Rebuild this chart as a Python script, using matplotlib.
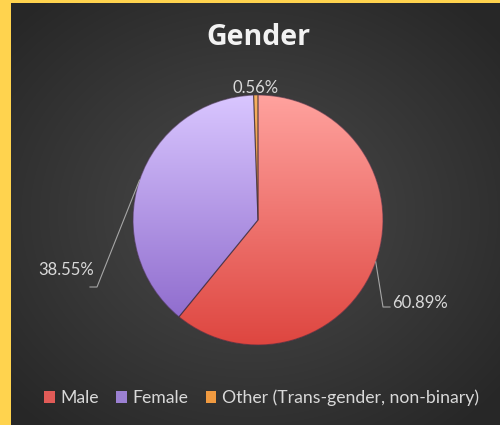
import numpy as np
import matplotlib
matplotlib.use("Agg")
import matplotlib.pyplot as plt
from matplotlib.patches import Rectangle, Patch, Wedge
from matplotlib.colors import LinearSegmentedColormap, to_rgb

# data
labels = ["Male", "Female", "Other (Trans-gender, non-binary)"]
shares = [60.89, 38.55, 0.56]
pct_text = ["60.89%", "38.55%", "0.56%"]

# colours (top of pie -> bottom of pie)
grad = [("#ffa29e", "#de4640"), ("#d9c6ff", "#8762c8"), ("#f7b060", "#e07a20")]
legend_cols = ["#e15b57", "#9b80d2", "#f09a40"]

W, H = 500, 425
fig = plt.figure(figsize=(5, 4.25), dpi=100)
ax = fig.add_axes([0, 0, 1, 1])

# radial background
yy, xx = np.mgrid[0:H, 0:W]
d = np.sqrt(((xx - 250) / 330.0) ** 2 + ((yy - (H - 215)) / 280.0) ** 2)
d = np.clip(d, 0, 1)
c0 = np.array(to_rgb("#4b4b4b"))
c1 = np.array(to_rgb("#272727"))
bg = c0[None, None, :] * (1 - d[..., None]) + c1[None, None, :] * d[..., None]
ax.imshow(bg, extent=(0, W, 0, H), origin="lower", zorder=0, aspect="auto")

# yellow frame (left and top)
ax.add_patch(Rectangle((0, 0), 11, H, color="#ffd34e", zorder=1, lw=0))
ax.add_patch(Rectangle((0, H - 3), W, 3, color="#ffd34e", zorder=1, lw=0))

cx, cy, r = 258, H - 220, 125
wedges, _ = ax.pie(shares, colors=legend_cols, startangle=90, counterclock=False,
                   center=(cx, cy), radius=r, frame=True,
                   wedgeprops=dict(edgecolor="#5a4a60", linewidth=0.6))
for w in wedges:
    w.set_zorder(2)

# vertical gradient fill clipped to each wedge
g = np.linspace(0, 1, 256)[:, None]
for w, (top, bot) in zip(wedges, grad):
    cmap = LinearSegmentedColormap.from_list("g", [bot, top])
    im = ax.imshow(g, cmap=cmap, extent=(cx - r, cx + r, cy - r, cy + r),
                   origin="lower", aspect="auto", zorder=3)
    im.set_clip_path(w)
    ax.add_patch(Wedge((cx, cy), r, w.theta1, w.theta2, fill=False,
                       edgecolor=(0.2, 0.15, 0.2, 0.5), lw=0.8, zorder=4))

lab_kw = dict(color="#d9d9d9", fontsize=12, family="Lato", zorder=6)
lc = "#a6a6a6"

# anchors on the rim from each wedge's mid angle
anch = []
for w in wedges:
    t = np.deg2rad((w.theta1 + w.theta2) / 2)
    anch.append((cx + r * np.cos(t), cy + r * np.sin(t)))

# Male
ax.plot([anch[0][0], 383, 390], [anch[0][1], H - 307, H - 307], color=lc, lw=0.8, zorder=5)
ax.text(392, H - 303, pct_text[0], ha="left", va="center", **lab_kw)
# Female
ax.plot([anch[1][0], 97, 90], [anch[1][1], H - 287, H - 287], color=lc, lw=0.8, zorder=5)
ax.text(94, H - 270, pct_text[1], ha="right", va="center", **lab_kw)
# Other
ax.text(anch[2][0], H - 88, pct_text[2], ha="center", va="center", **lab_kw)

ax.text(258, H - 37, "Gender", ha="center", va="center", color="#f2f2f2",
        fontsize=20.5, fontweight="bold", family="Open Sans", zorder=6)

handles = [Patch(facecolor=c, edgecolor="none") for c in legend_cols]
ax.legend(handles, labels, loc="center", bbox_to_anchor=(0.523, 1 - 398 / H), ncol=3,
          frameon=False, handlelength=0.6, handleheight=0.6, handletextpad=0.3,
          columnspacing=1.0, labelcolor="#d9d9d9", prop=dict(family="Lato", size=12.7))

ax.set_xlim(0, W)
ax.set_ylim(0, H)
ax.set_aspect("equal")
ax.axis("off")
fig.savefig("out.png", dpi=100)
